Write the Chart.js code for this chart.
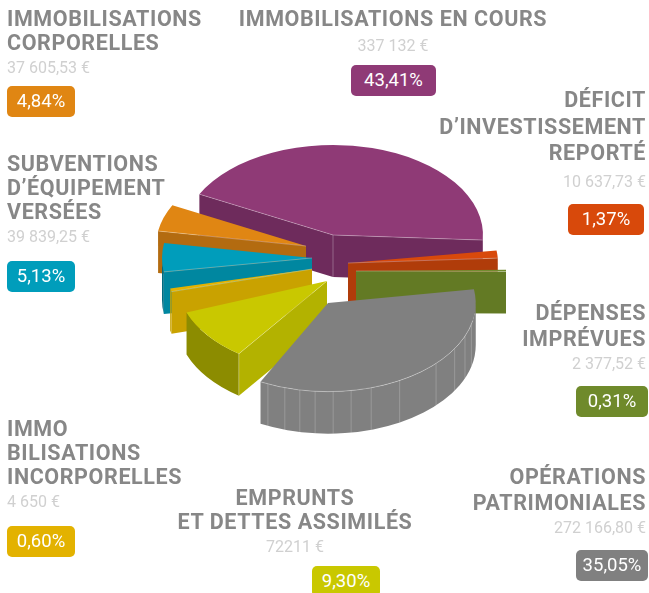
<!DOCTYPE html>
<html lang="fr">
<head>
  <meta charset="UTF-8">
  <title>Répartition des dépenses d'investissement</title>
  <script src="https://cdn.jsdelivr.net/npm/chart.js"></script>
  <style>
    html, body { margin: 0; padding: 0; background: #fff; }
    #wrap { position: relative; width: 649px; height: 593px; overflow: hidden; font-family: Roboto, sans-serif; }
    canvas { position: absolute; left: 0; top: 0; }
    .label { position: absolute; }
    .title { color: #878787; font-size: 21.5px; font-weight: 700; letter-spacing: 0.6px; white-space: nowrap; }
    .amount { position: absolute; color: #d0d0d0; font-size: 16px; white-space: nowrap; }
    .badge { position: absolute; height: 31px; line-height: 31px; border-radius: 5px; color: #fff; font-size: 18.5px; font-weight: 400; text-align: center; }
  </style>
</head>
<body>
  <div id="wrap">
    <canvas id="chart" width="649" height="593"></canvas>
  </div>

  <script>
    // Données
    const categories = [
      ['IMMOBILISATIONS EN COURS'],
      ['DÉFICIT', 'D’INVESTISSEMENT', 'REPORTÉ'],
      ['DÉPENSES', 'IMPRÉVUES'],
      ['OPÉRATIONS', 'PATRIMONIALES'],
      ['EMPRUNTS', 'ET DETTES ASSIMILÉS'],
      ['IMMO', 'BILISATIONS', 'INCORPORELLES'],
      ['SUBVENTIONS', 'D’ÉQUIPEMENT', 'VERSÉES'],
      ['IMMOBILISATIONS', 'CORPORELLES']
    ];
    const amounts = ['337 132 €', '10 637,73 €', '2 377,52 €', '272 166,80 €', '72211 €', '4 650 €', '39 839,25 €', '37 605,53 €'];
    const percents = [43.41, 1.37, 0.31, 35.05, 9.30, 0.60, 5.13, 4.84];

    // Couleurs : dessus, coupe, bord extérieur
    const topColors = ['#8f3a76', '#d8490b', '#6f8a2b', '#808080', '#c9c800', '#e3b200', '#009dbb', '#e08613'];
    const cutColors = ['#6e2b5c', '#b03c0a', '#637a24', '#808080', '#b3b200', '#c9a200', '#0087a0', '#b36b10'];
    const rimColors = ['#6e2b5c', '#b03c0a', '#637a24', '#808080', '#8c8c00', '#c9a200', '#006b80', '#b36b10'];
    const badgeColors = ['#8f3a76', '#d8490b', '#6f8a2b', '#808080', '#c9c800', '#e3b200', '#009dbb', '#e08613'];

    // Vue 3D : écartement, rotation et échelle de chaque part
    const explodeX = [3, 18, 26, -2, -3, -18, -18, -24];
    const explodeY = [-35, -7, 1, 33, 11, -1, -12, -24];
    const sliceTurn = [0, -11.3, -9, -18.3, -9.5, -4, 0, 0];
    const sliceScale = [1, 1, 1, 0.985, 1, 0.97, 1, 1];
    const drawOrder = [0, 7, 6, 5, 4, 1, 2, 3];
    const tilt = 0.6;
    const depth = 42;
    const grayRibs = [114, 107, 101, 95, 88, 81, 73, 61, 43, 31, 22, 14];

    // Position des textes : x, ancrage, haut du titre, interligne, haut montant, x badge, haut badge, largeur badge
    const labelBoxes = [
      { x: 393, align: 'center', top: 7, lh: 24, amountTop: 36, badgeX: 351, badgeTop: 65, badgeW: 85 },
      { x: 646, align: 'right', top: 88, lh: 26.5, amountTop: 172, badgeX: 568, badgeTop: 204, badgeW: 76 },
      { x: 646, align: 'right', top: 301, lh: 26, amountTop: 354, badgeX: 576, badgeTop: 386, badgeW: 72 },
      { x: 646, align: 'right', top: 465, lh: 26, amountTop: 518, badgeX: 576, badgeTop: 550, badgeW: 72 },
      { x: 295, align: 'center', top: 486, lh: 24, amountTop: 537, badgeX: 312, badgeTop: 566, badgeW: 68 },
      { x: 7, align: 'left', top: 417, lh: 24, amountTop: 492, badgeX: 7, badgeTop: 526, badgeW: 68 },
      { x: 7, align: 'left', top: 152, lh: 24, amountTop: 227, badgeX: 7, badgeTop: 261, badgeW: 68 },
      { x: 7, align: 'left', top: 7, lh: 24, amountTop: 58, badgeX: 7, badgeTop: 86, badgeW: 68 }
    ];

    const wrap = document.getElementById('wrap');
    categories.forEach((lines, i) => {
      const box = labelBoxes[i];
      lines.forEach((line, j) => {
        const t = document.createElement('div');
        t.className = 'label title';
        t.textContent = line;
        t.style.top = (box.top + j * box.lh) + 'px';
        t.style.lineHeight = '24px';
        placeX(t, box);
        wrap.appendChild(t);
      });
      const a = document.createElement('div');
      a.className = 'amount';
      a.textContent = amounts[i];
      a.style.top = box.amountTop + 'px';
      placeX(a, box);
      wrap.appendChild(a);
      const b = document.createElement('div');
      b.className = 'badge';
      b.textContent = percents[i].toFixed(2).replace('.', ',') + '%';
      b.style.left = box.badgeX + 'px';
      b.style.top = box.badgeTop + 'px';
      b.style.width = box.badgeW + 'px';
      b.style.background = badgeColors[i];
      wrap.appendChild(b);
    });

    function placeX(el, box) {
      if (box.align === 'left') el.style.left = box.x + 'px';
      if (box.align === 'right') el.style.right = (649 - box.x) + 'px';
      if (box.align === 'center') { el.style.left = box.x + 'px'; el.style.transform = 'translateX(-50%)'; }
    }

    const pie3d = {
      id: 'pie3d',
      beforeDatasetsDraw(chart) {
        const ctx = chart.ctx;
        const arcs = chart.getDatasetMeta(0).data;
        const TAU = 2 * Math.PI;
        drawOrder.forEach(i => {
          const arc = arcs[i];
          const p = arc.getProps(['x', 'y', 'startAngle', 'endAngle', 'outerRadius']);
          const turn = sliceTurn[i] * Math.PI / 180;
          // angles ramenés autour de zéro
          const shift = Math.floor((p.startAngle + turn) / TAU) * TAU;
          const a0 = p.startAngle + turn - shift;
          const a1 = p.endAngle + turn - shift;
          const cx = p.x + explodeX[i];
          const cy = p.y + explodeY[i];
          const r = p.outerRadius * sliceScale[i];
          const px = a => cx + r * Math.cos(a);
          const py = a => cy + r * tilt * Math.sin(a);

          // bord extérieur (partie tournée vers nous)
          for (let k = 0; k <= 1; k++) {
            const s = Math.max(a0, TAU * k);
            const e = Math.min(a1, TAU * k + Math.PI);
            if (e <= s) continue;
            ctx.beginPath();
            ctx.ellipse(cx, cy, r, r * tilt, 0, s, e);
            ctx.ellipse(cx, cy + depth, r, r * tilt, 0, e, s, true);
            ctx.closePath();
            ctx.fillStyle = rimColors[i];
            ctx.fill();
          }

          // faces de coupe
          const wall = a => {
            ctx.beginPath();
            ctx.moveTo(cx, cy);
            ctx.lineTo(px(a), py(a));
            ctx.lineTo(px(a), py(a) + depth);
            ctx.lineTo(cx, cy + depth);
            ctx.closePath();
            ctx.fillStyle = cutColors[i];
            ctx.fill();
          };
          if (Math.cos(a0) < 0) wall(a0);
          if (Math.cos(a1) > 0) wall(a1);

          // dessus : l'arc de Chart.js, aplati
          ctx.save();
          ctx.translate(cx, cy);
          ctx.scale(sliceScale[i], sliceScale[i] * tilt);
          ctx.rotate(turn);
          ctx.translate(-p.x, -p.y);
          arc.draw(ctx);
          ctx.restore();

          // filets clairs sur les arêtes
          ctx.strokeStyle = 'rgba(255,255,255,0.35)';
          ctx.lineWidth = 0.8;
          const edge = a => {
            ctx.beginPath();
            ctx.moveTo(cx, cy);
            ctx.lineTo(px(a), py(a));
            ctx.stroke();
          };
          if (Math.cos(a0) < 0) edge(a0);
          if (Math.cos(a1) > 0) edge(a1);
          if (i === 0) {
            ctx.beginPath();
            ctx.moveTo(cx, cy);
            ctx.lineTo(cx, cy + depth);
            ctx.stroke();
          }
          if (i === 4) {
            ctx.beginPath();
            ctx.moveTo(px(a0), py(a0));
            ctx.lineTo(px(a0), py(a0) + depth);
            ctx.stroke();
          }

          // nervures de la part grise
          if (i === 3) {
            ctx.strokeStyle = 'rgba(255,255,255,0.4)';
            ctx.beginPath();
            ctx.ellipse(cx, cy, r, r * tilt, 0, 0.2, a1 > TAU ? a1 - TAU : a1);
            ctx.stroke();
            ctx.strokeStyle = 'rgba(255,255,255,0.25)';
            grayRibs.forEach(d => {
              const a = d * Math.PI / 180;
              ctx.beginPath();
              ctx.moveTo(px(a), py(a));
              ctx.lineTo(px(a), py(a) + depth);
              ctx.stroke();
            });
          }
        });
        return false;
      }
    };

    new Chart(document.getElementById('chart'), {
      type: 'pie',
      data: {
        labels: categories.map(c => c.join(' ')),
        datasets: [{
          data: percents,
          backgroundColor: topColors,
          borderWidth: 0,
          radius: 150
        }]
      },
      options: {
        responsive: false,
        animation: false,
        rotation: 297,
        layout: { padding: { left: 11, bottom: 53 } },
        plugins: { legend: { display: false }, tooltip: { enabled: false } }
      },
      plugins: [pie3d]
    });
  </script>
</body>
</html>
